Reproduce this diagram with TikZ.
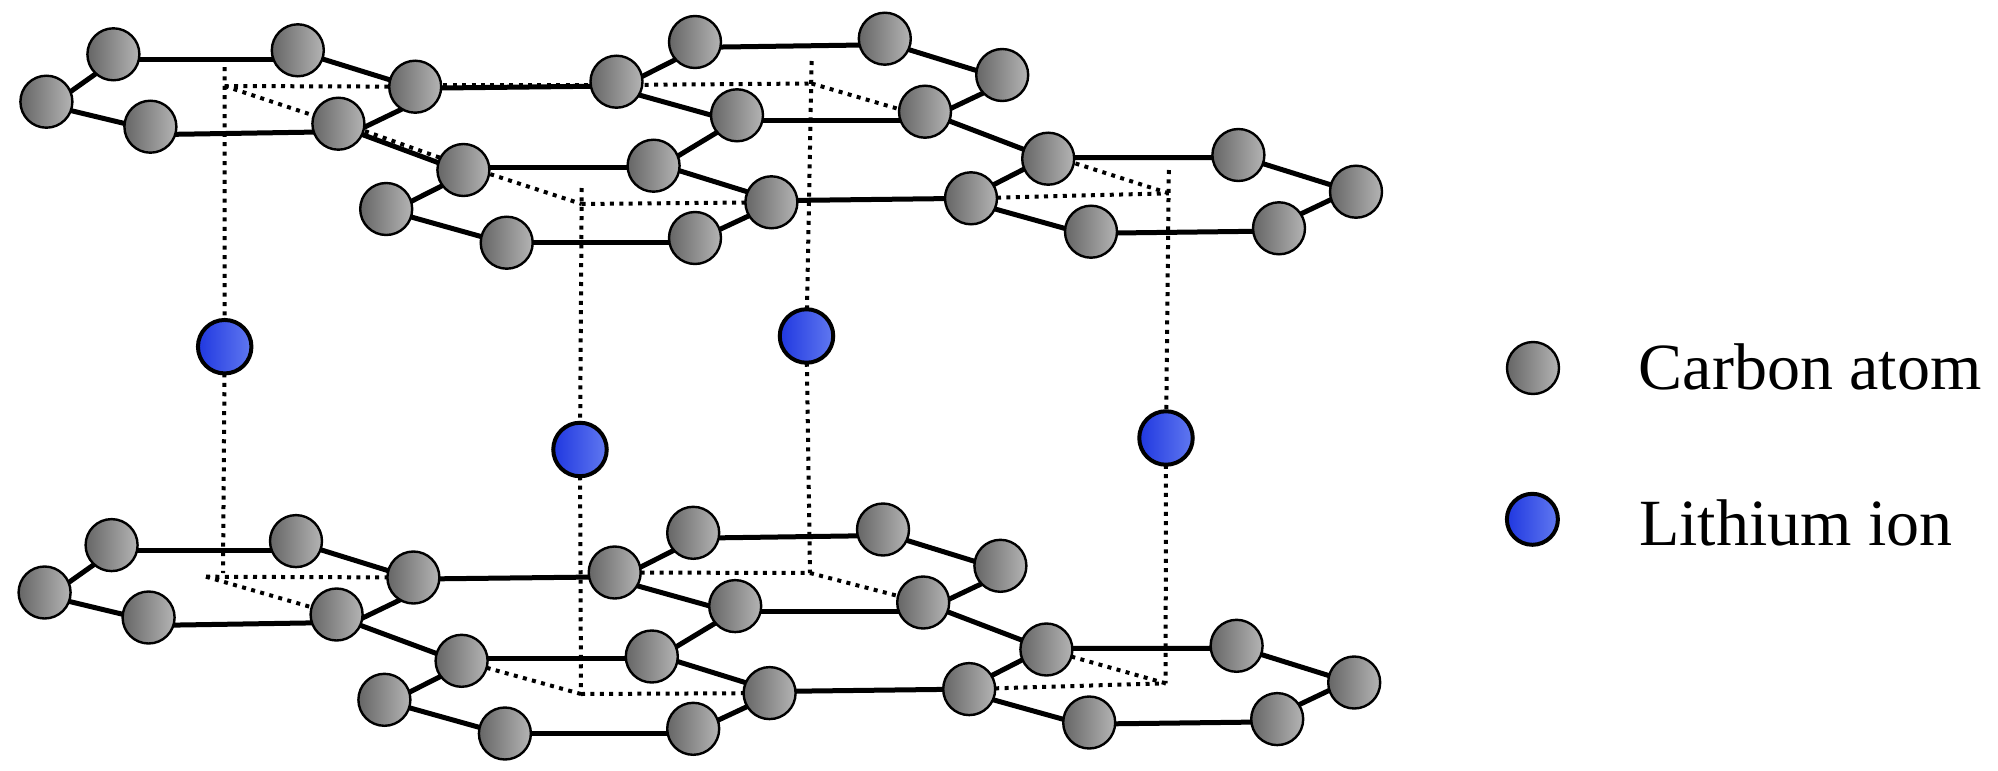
\documentclass[tikz,border=0pt]{standalone}
\usepackage{fontspec}
\setmainfont{Liberation Serif}
\usetikzlibrary{backgrounds}
\definecolor{atomdark}{HTML}{666666}
\definecolor{atomlight}{HTML}{B4B4B4}
\definecolor{iondark}{HTML}{2038E0}
\definecolor{ionlight}{HTML}{6078F0}
\tikzset{
  x=1pt,y=-1pt,
  atom/.style={circle,draw=black,line width=2.4pt,minimum size=52pt,inner sep=0pt,outer sep=0pt,left color=atomdark,right color=atomlight},
  ion/.style={circle,draw=black,line width=4pt,minimum size=53.5pt,inner sep=0pt,outer sep=0pt,left color=iondark,right color=ionlight},
  legendion/.style={ion,minimum size=51pt},
  bond/.style={draw=black,line width=5pt},
  dotline/.style={draw=black,line width=4pt,dash pattern=on 4pt off 5.4pt},
  legendtext/.style={anchor=base west,inner sep=0pt,font=\fontsize{66}{70}\selectfont}
}
\newcommand{\graphene}[3]{%
  \begin{scope}[shift={(#2,#3)}]
    \node[atom] (#1a1) at (46.4,101.7) {};
    \node[atom] (#1a2) at (113.4,54.3) {};
    \node[atom] (#1a3) at (297.8,50.3) {};
    \node[atom] (#1a4) at (415.2,86.7) {};
    \node[atom] (#1a5) at (338.4,123.7) {};
    \node[atom] (#1a6) at (150.4,126.7) {};
    \node[atom] (#1b1) at (386.2,209) {};
    \node[atom] (#1b2) at (463.4,170) {};
    \node[atom] (#1b3) at (653.6,165.7) {};
    \node[atom] (#1b4) at (771.4,202.3) {};
    \node[atom] (#1b5) at (695,238) {};
    \node[atom] (#1b6) at (506.7,242.7) {};
    \node[atom] (#1c1) at (616.5,81.7) {};
    \node[atom] (#1c2) at (695,42) {};
    \node[atom] (#1c3) at (884.8,38.7) {};
    \node[atom] (#1c4) at (1002.2,75) {};
    \node[atom] (#1c5) at (925,111.7) {};
    \node[atom] (#1c6) at (737,115.3) {};
    \node[atom] (#1d1) at (971,198.3) {};
    \node[atom] (#1d2) at (1048.2,158.7) {};
    \node[atom] (#1d3) at (1238.4,155) {};
    \node[atom] (#1d4) at (1356,191.7) {};
    \node[atom] (#1d5) at (1279,228.3) {};
    \node[atom] (#1d6) at (1091,231.7) {};
  \end{scope}
  \begin{scope}[on background layer]
    \foreach \p/\o/\q/\r in {a1/7/a2/7,a2/5/a3/9,a3/1/a4/1,a4/16/a5/16,a5/8/a6/8,a6/3/a1/3,
      a4/1.6/c1/4.3,c1/7.7/c2/7.7,c2/5.4/c3/6,c3/3.5/c4/3.5,c4/9/c5/9,c5/9/c6/5.4,c6/7/c1/7,
      a5/2/b2/2,b1/5/b2/5,b2/-2.3/b3/2,b3/-3/b4/-3,b4/3/b5/3,b5/4.7/b6/0,b6/1/b1/1,
      b3/5/c6/5,c5/0/d2/0,d1/-2/d2/-2,d2/-1/d3/2.5,d3/1/d4/1,d4/-4/d5/-4,d5/2.7/d6/1.6,d6/4/d1/4,b4/-1.6/d1/0}
      \draw[bond] ([shift={(0,\o)}]#1\p.center) -- ([shift={(0,\r)}]#1\q.center);
  \end{scope}%
}
\begin{document}
\begin{tikzpicture}
\useasboundingbox (0,0) rectangle (1998,771);
\graphene{t}{0}{0}
\graphene{u}{-1.8}{490.8}
% lithium ions
\node[ion] (li1) at (224.7,346.7) {};
\node[ion] (li2) at (580,449.5) {};
\node[ion] (li3) at (806.5,336) {};
\node[ion] (li4) at (1166,438) {};
% lattice guide points
\coordinate (v1a) at (224.6,67);
\coordinate (v1b) at (224.6,86);
\coordinate (v1c) at (223,573);
\coordinate (v1d) at (206,576.7);
\coordinate (v2a) at (581.7,188);
\coordinate (v2b) at (581.7,204);
\coordinate (v2c) at (581,694);
\coordinate (v3a) at (811.6,61);
\coordinate (v3b) at (811.6,83.5);
\coordinate (v3c) at (810,573);
\coordinate (v4a) at (1168.8,170);
\coordinate (v4b) at (1168.8,193.3);
\coordinate (v4c) at (1165.6,683.3);
\begin{scope}[on background layer]
  \draw[dotline] (v1a) -- (li1);
  \draw[dotline] (li1) -- (v1c);
  \draw[dotline] (v2a) -- (li2);
  \draw[dotline] (li2) -- (v2c);
  \draw[dotline] (v3a) -- (li3);
  \draw[dotline] (li3) -- (v3c);
  \draw[dotline] (v4a) -- (li4);
  \draw[dotline] (li4) -- (v4c);
  % upper layer
  \draw[dotline] (v1b) -- (ta4);
  \draw[dotline] (v1b) -- (ta5);
  \draw[dotline] ([shift={(0,-1.7)}]ta4.center) -- ([shift={(0,3.3)}]tc1.center);
  \draw[dotline] ([shift={(0,3.3)}]tc1.center) -- (v3b);
  \draw[dotline] (v3b) -- ([shift={(0,5)}]tc5.center);
  \draw[dotline] ([shift={(0,-2)}]ta5.center) -- ([shift={(0,-4)}]tb2.center);
  \draw[dotline] ([shift={(0,-4.6)}]tb2.center) -- (v2b);
  \draw[dotline] (v2b) -- (tb4);
  \draw[dotline] (td1) -- (v4b);
  \draw[dotline] (v4b) -- ([shift={(0,-4)}]td2.center);
  % lower layer
  \draw[dotline] (v1d) -- (ua4);
  \draw[dotline] (v1d) -- (ua5);
  \draw[dotline] (uc1) -- (v3c);
  \draw[dotline] (v3c) -- (uc5);
  \draw[dotline] (ub2) -- (v2c);
  \draw[dotline] (v2c) -- (ub4);
  \draw[dotline] (ud1) -- (v4c);
  \draw[dotline] (v4c) -- (ud2);
\end{scope}
% legend
\node[atom] (legc) at (1533,368) {};
\node[legendion] (legl) at (1532.4,519.3) {};
\node[legendtext] (legct) at (1638.5,389) {Carbon atom};
\node[legendtext] (leglt) at (1639,545.7) {Lithium ion};
\end{tikzpicture}
\end{document}
